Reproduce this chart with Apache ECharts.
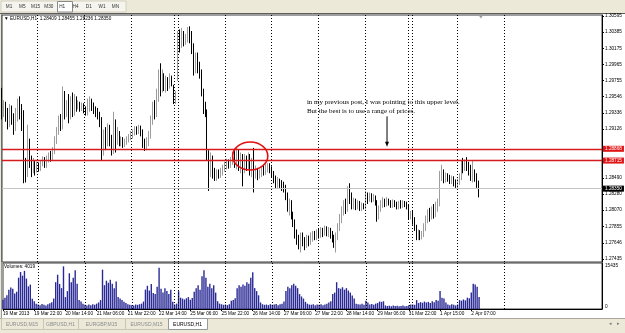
<!DOCTYPE html>
<html lang="en">
<head>
<meta charset="UTF-8" />
<title>EURUSD,H1</title>
</head>
<body>
<style>
* { margin: 0; padding: 0; }
body { width: 625px; height: 333px; overflow: hidden; background: #ece9d8; }
#chartEl { width: 625px; height: 333px; }
</style>
<div id="chartEl"></div>
<script src="https://cdn.jsdelivr.net/npm/echarts@6.0.0/dist/echarts.min.js"></script>
<script>
// H1 candles, one array per trading day: [open, close, low, high]
const mar19 = [
  [1.2950,1.2935,1.2925,1.2966],[1.2935,1.2942,1.2928,1.2950],[1.2942,1.2930,1.2922,1.2948],
  [1.2930,1.2920,1.2912,1.2940],[1.2920,1.2932,1.2915,1.2945],[1.2932,1.2925,1.2918,1.2943],
  [1.2925,1.2915,1.2905,1.2933],[1.2915,1.2928,1.2910,1.2940],[1.2928,1.2945,1.2922,1.2952],
  [1.2945,1.2938,1.2925,1.2955],[1.2938,1.2920,1.2910,1.2945],[1.2920,1.2862,1.2842,1.2937],
  [1.2862,1.2855,1.2843,1.2875],[1.2858,1.2895,1.2850,1.2918],[1.2895,1.2870,1.2862,1.2900],
  [1.2870,1.2862,1.2850,1.2878],[1.2862,1.2868,1.2855,1.2875],[1.2868,1.2860,1.2852,1.2872]
];
const mar20 = [
  [1.2860,1.2865,1.2856,1.2870],[1.2865,1.2862,1.2857,1.2869],[1.2862,1.2868,1.2858,1.2872],
  [1.2868,1.2872,1.2864,1.2877],[1.2872,1.2866,1.2862,1.2876],[1.2866,1.2874,1.2862,1.2878],
  [1.2874,1.2878,1.2869,1.2882],[1.2878,1.2875,1.2870,1.2884],[1.2875,1.2885,1.2872,1.2889],
  [1.2885,1.2898,1.2880,1.2903],[1.2898,1.2910,1.2893,1.2915],[1.2910,1.2925,1.2905,1.2930],
  [1.2925,1.2918,1.2910,1.2932],[1.2918,1.2945,1.2912,1.2968],[1.2945,1.2935,1.2925,1.2962],
  [1.2935,1.2940,1.2928,1.2950],[1.2940,1.2930,1.2920,1.2958],[1.2930,1.2945,1.2925,1.2955],
  [1.2945,1.2938,1.2928,1.2960],[1.2938,1.2950,1.2930,1.2958],[1.2950,1.2942,1.2935,1.2955],
  [1.2942,1.2945,1.2938,1.2950],[1.2945,1.2940,1.2935,1.2948],[1.2940,1.2943,1.2936,1.2947]
];
const mar21 = [
  [1.2943,1.2938,1.2933,1.2946],[1.2938,1.2935,1.2930,1.2942],[1.2935,1.2940,1.2930,1.2952],
  [1.2940,1.2948,1.2935,1.2955],[1.2948,1.2942,1.2936,1.2952],[1.2942,1.2938,1.2932,1.2947],
  [1.2938,1.2935,1.2928,1.2942],[1.2935,1.2930,1.2925,1.2940],[1.2930,1.2922,1.2915,1.2935],
  [1.2922,1.2885,1.2872,1.2928],[1.2885,1.2905,1.2878,1.2912],[1.2905,1.2895,1.2885,1.2915],
  [1.2895,1.2912,1.2890,1.2920],[1.2912,1.2900,1.2890,1.2918],[1.2900,1.2885,1.2878,1.2905],
  [1.2885,1.2910,1.2880,1.2935],[1.2910,1.2900,1.2882,1.2925],[1.2900,1.2905,1.2892,1.2915],
  [1.2905,1.2895,1.2890,1.2910],[1.2895,1.2898,1.2890,1.2903],[1.2898,1.2892,1.2888,1.2902],
  [1.2892,1.2896,1.2889,1.2900],[1.2896,1.2899,1.2892,1.2903],[1.2899,1.2902,1.2895,1.2906]
];
const mar22 = [
  [1.2902,1.2905,1.2898,1.2910],[1.2905,1.2908,1.2900,1.2912],[1.2908,1.2912,1.2904,1.2916],
  [1.2912,1.2910,1.2905,1.2916],[1.2910,1.2914,1.2906,1.2918],[1.2914,1.2908,1.2903,1.2917],
  [1.2908,1.2895,1.2888,1.2912],[1.2895,1.2890,1.2884,1.2900],[1.2890,1.2897,1.2885,1.2902],
  [1.2897,1.2905,1.2890,1.2910],[1.2905,1.2925,1.2900,1.2930],[1.2925,1.2940,1.2918,1.2948],
  [1.2940,1.2932,1.2925,1.2950],[1.2932,1.2955,1.2928,1.2965],[1.2955,1.2975,1.2948,1.2990],
  [1.2975,1.2965,1.2955,1.2998],[1.2965,1.2978,1.2960,1.2990],[1.2978,1.2970,1.2962,1.2985],
  [1.2970,1.2975,1.2960,1.2982],[1.2975,1.2968,1.2962,1.2980],[1.2968,1.2978,1.2965,1.2985],
  [1.2978,1.2975,1.2968,1.2982]
];
const mar24 = [[1.2965,1.2950,1.2945,1.2970],[1.2950,1.2958,1.2945,1.2962]];
const mar25 = [
  [1.2985,1.3030,1.2975,1.3040],[1.3030,1.3025,1.3012,1.3042],[1.3025,1.3035,1.3018,1.3044],
  [1.3035,1.3028,1.3020,1.3040],[1.3028,1.3030,1.3022,1.3036],[1.3030,1.3035,1.3025,1.3045],
  [1.3035,1.3032,1.3024,1.3046],[1.3032,1.3020,1.3010,1.3040],[1.3020,1.2990,1.2982,1.3024],
  [1.2990,1.3005,1.2985,1.3012],[1.3005,1.2995,1.2985,1.3012],[1.2995,1.2985,1.2978,1.3000],
  [1.2985,1.2960,1.2955,1.2990],[1.2960,1.2940,1.2932,1.2965],[1.2940,1.2935,1.2928,1.2948],
  [1.2935,1.2880,1.2872,1.2938],[1.2880,1.2860,1.2832,1.2885],[1.2860,1.2870,1.2850,1.2882],
  [1.2870,1.2855,1.2848,1.2878],[1.2855,1.2850,1.2845,1.2862],[1.2850,1.2856,1.2845,1.2860],
  [1.2856,1.2853,1.2848,1.2860],[1.2853,1.2858,1.2849,1.2862],[1.2858,1.2862,1.2852,1.2866]
];
const mar26 = [
  [1.2862,1.2866,1.2857,1.2870],[1.2866,1.2870,1.2860,1.2874],[1.2870,1.2867,1.2861,1.2873],
  [1.2867,1.2872,1.2862,1.2876],[1.2872,1.2878,1.2866,1.2883],[1.2878,1.2870,1.2862,1.2885],
  [1.2870,1.2878,1.2860,1.2888],[1.2878,1.2868,1.2858,1.2886],[1.2868,1.2875,1.2855,1.2882],
  [1.2875,1.2862,1.2838,1.2880],[1.2862,1.2872,1.2855,1.2880],[1.2872,1.2866,1.2858,1.2878],
  [1.2866,1.2874,1.2860,1.2882],[1.2874,1.2860,1.2852,1.2880],[1.2860,1.2868,1.2850,1.2875],
  [1.2868,1.2855,1.2830,1.2888],[1.2855,1.2858,1.2848,1.2865],[1.2858,1.2852,1.2846,1.2862],
  [1.2852,1.2856,1.2848,1.2860],[1.2856,1.2860,1.2850,1.2864],[1.2860,1.2857,1.2852,1.2866],
  [1.2857,1.2862,1.2853,1.2867],[1.2862,1.2864,1.2856,1.2868],[1.2864,1.2860,1.2855,1.2868]
];
const mar27 = [
  [1.2860,1.2855,1.2850,1.2864],[1.2855,1.2848,1.2842,1.2858],[1.2848,1.2840,1.2835,1.2852],
  [1.2840,1.2845,1.2836,1.2850],[1.2845,1.2842,1.2836,1.2848],[1.2842,1.2838,1.2832,1.2846],
  [1.2838,1.2835,1.2830,1.2844],[1.2835,1.2825,1.2820,1.2840],[1.2825,1.2812,1.2805,1.2830],
  [1.2812,1.2815,1.2800,1.2822],[1.2815,1.2800,1.2795,1.2820],[1.2800,1.2790,1.2785,1.2805],
  [1.2790,1.2778,1.2770,1.2795],[1.2778,1.2770,1.2762,1.2782],[1.2770,1.2765,1.2756,1.2775],
  [1.2765,1.2772,1.2752,1.2778],[1.2772,1.2768,1.2760,1.2778],[1.2768,1.2762,1.2755,1.2772],
  [1.2762,1.2770,1.2758,1.2775],[1.2770,1.2766,1.2760,1.2774],[1.2766,1.2772,1.2762,1.2778],
  [1.2772,1.2775,1.2766,1.2780],[1.2775,1.2772,1.2768,1.2780],[1.2772,1.2778,1.2768,1.2782]
];
const mar28 = [
  [1.2778,1.2776,1.2770,1.2783],[1.2776,1.2780,1.2771,1.2785],[1.2780,1.2778,1.2772,1.2784],
  [1.2778,1.2782,1.2774,1.2787],[1.2782,1.2778,1.2773,1.2786],[1.2778,1.2780,1.2772,1.2785],
  [1.2780,1.2776,1.2770,1.2784],[1.2776,1.2770,1.2765,1.2780],[1.2770,1.2765,1.2758,1.2775],
  [1.2765,1.2772,1.2752,1.2778],[1.2772,1.2785,1.2768,1.2790],[1.2785,1.2798,1.2780,1.2802],
  [1.2798,1.2805,1.2790,1.2812],[1.2805,1.2815,1.2800,1.2820],[1.2815,1.2810,1.2802,1.2822],
  [1.2810,1.2830,1.2805,1.2838],[1.2830,1.2822,1.2815,1.2842],[1.2822,1.2815,1.2808,1.2830],
  [1.2815,1.2818,1.2808,1.2823],[1.2818,1.2812,1.2807,1.2822],[1.2812,1.2815,1.2808,1.2820],
  [1.2815,1.2810,1.2806,1.2819],[1.2810,1.2813,1.2806,1.2817],[1.2813,1.2812,1.2808,1.2816]
];
const mar29 = [
  [1.2812,1.2825,1.2808,1.2832],[1.2825,1.2822,1.2815,1.2830],[1.2822,1.2826,1.2818,1.2830],
  [1.2826,1.2822,1.2817,1.2829],[1.2822,1.2824,1.2818,1.2828],[1.2824,1.2818,1.2813,1.2826],
  [1.2818,1.2800,1.2792,1.2820],[1.2800,1.2810,1.2795,1.2813],[1.2810,1.2815,1.2805,1.2820],
  [1.2815,1.2820,1.2810,1.2824],[1.2820,1.2816,1.2811,1.2822],[1.2816,1.2820,1.2812,1.2824],
  [1.2820,1.2817,1.2813,1.2822],[1.2817,1.2814,1.2810,1.2820],[1.2814,1.2818,1.2810,1.2821],
  [1.2818,1.2815,1.2811,1.2820],[1.2815,1.2812,1.2808,1.2818],[1.2812,1.2816,1.2808,1.2819],
  [1.2816,1.2814,1.2809,1.2820],[1.2814,1.2817,1.2810,1.2820],[1.2817,1.2815,1.2811,1.2819],
  [1.2815,1.2812,1.2808,1.2818]
];
const mar31 = [[1.2812,1.2800,1.2795,1.2815],[1.2800,1.2803,1.2795,1.2806]];
const apr01 = [
  [1.2803,1.2795,1.2788,1.2806],[1.2795,1.2785,1.2780,1.2798],[1.2785,1.2775,1.2768,1.2788],
  [1.2775,1.2778,1.2768,1.2782],[1.2778,1.2772,1.2768,1.2781],[1.2772,1.2776,1.2769,1.2780],
  [1.2776,1.2785,1.2772,1.2790],[1.2785,1.2795,1.2780,1.2800],[1.2795,1.2802,1.2790,1.2808],
  [1.2802,1.2798,1.2792,1.2810],[1.2798,1.2806,1.2795,1.2812],[1.2806,1.2802,1.2796,1.2815],
  [1.2802,1.2810,1.2798,1.2818],[1.2810,1.2815,1.2805,1.2822],[1.2815,1.2850,1.2812,1.2858],
  [1.2850,1.2855,1.2845,1.2866],[1.2855,1.2848,1.2842,1.2860],[1.2848,1.2852,1.2843,1.2856],
  [1.2852,1.2849,1.2844,1.2855],[1.2849,1.2846,1.2841,1.2853],[1.2846,1.2848,1.2841,1.2852],
  [1.2848,1.2843,1.2838,1.2851],[1.2843,1.2840,1.2836,1.2847]
];
const apr02 = [
  [1.2840,1.2845,1.2836,1.2848],[1.2845,1.2850,1.2840,1.2855],[1.2850,1.2866,1.2846,1.2872],
  [1.2866,1.2862,1.2855,1.2875],[1.2862,1.2868,1.2858,1.2873],[1.2868,1.2865,1.2858,1.2876],
  [1.2865,1.2858,1.2852,1.2870],[1.2858,1.2850,1.2845,1.2866],[1.2850,1.2856,1.2843,1.2872],
  [1.2856,1.2850,1.2844,1.2860],[1.2850,1.28409,1.2836,1.2855],[1.28409,1.28350,1.28236,1.28455]
];

// tick volumes, same bars
const vol19 = [3100,3800,4600,6500,7200,6800,5200,5800,10500,12400,11200,12800,10200,7600,8200,3400,2600,1800];
const vol20 = [1500,1300,1700,1400,1200,1600,1900,2300,3500,9000,11500,8400,7000,14300,4000,6000,12000,9000,10500,13000,8500,3000,2500,1800];
const vol21 = [1400,1200,1500,1300,1600,1400,1800,2200,3000,13200,8000,9500,8800,9800,8500,7000,9200,4000,3500,3000,2400,2000,1600,1400];
const vol22 = [1300,1200,1500,1400,1600,1800,2500,6500,7800,6200,8400,5400,5000,7500,13800,6800,5500,7000,6000,5000,6500,2400];
const vol24 = [1500,1800];
const vol25 = [6000,3800,3500,3200,3600,4000,3100,3700,5800,7000,8000,6500,11000,13000,10500,7500,8500,7000,8000,5500,2600,1800,1600,1400];
const vol26 = [1500,1300,1600,2800,3000,3600,7000,8000,7500,8200,7800,9000,8500,10500,12300,7000,6000,4600,2200,1600,1400,1500,1300,1600];
const vol27 = [1400,1500,1700,1300,1600,1800,2500,6000,7500,7000,8000,8500,7800,7000,5000,4200,3500,2400,1800,1500,1400,1600,1300,1500];
const vol28 = [1400,1600,1300,1500,1800,2200,2600,5000,5500,9000,7000,6800,7300,6500,7000,6200,5500,4500,3500,1800,1600,1500,1800,1400];
const vol29 = [2800,2200,1500,1700,1400,1800,2000,2500,2400,2600,1200,1000,1100,900,1200,1000,1100,900,1000,1200,900,1000];
const vol31 = [1300,1500];
const volA1 = [1500,1400,3000,2000,2300,2100,2500,2200,2400,2000,2600,2300,3000,2800,6000,3800,3500,2200,1500,1300,1600,1400,1200];
const volA2 = [1500,3000,2800,3200,2900,3800,3600,5500,8500,8200,7500,4019];

// axis texts
const timeLabels = ['19 Mar 2013','19 Mar 22:00','20 Mar 14:00','21 Mar 06:00','21 Mar 22:00','22 Mar 14:00',
  '25 Mar 06:00','25 Mar 22:00','26 Mar 14:00','27 Mar 06:00','27 Mar 22:00','28 Mar 14:00',
  '29 Mar 06:00','31 Mar 22:00','1 Apr 15:00','2 Apr 07:00'];
const labelBars = [0,16,32,48,64,80,96,112,128,144,160,176,192,208,224,240];
const daySeparators = [18,42,66,88,90,114,138,162,186,208,210,233,257];
const priceTicks = [1.27435,1.27646,1.27855,1.28070,1.28280,1.28490,1.29126,1.29336,1.29546,1.29755,1.29965,1.30175,1.30385,1.30595];
const volumeTicks = [0, 15435];
const levels = [1.28868, 1.28715];
const tfLabels = ['M1','M5','M15','M30','H1','H4','D1','W1','MN'];
const tabNames = ['EURUSD,M15','GBPUSD,H1','EURGBP,M15','EURUSD,M15','EURUSD,H1'];
const noteLines = ['in my previous post, I was pointing to this upper level.', 'But the best is to use a range of prices.'];

const candles = [].concat(mar19, mar20, mar21, mar22, mar24, mar25, mar26, mar27, mar28, mar29, mar31, apr01, apr02);
const volumes = [].concat(vol19, vol20, vol21, vol22, vol24, vol25, vol26, vol27, vol28, vol29, vol31, volA1, volA2);
const slotCount = 308;
const barIds = Array.from({ length: slotCount }, (_, i) => i);
const lastBar = candles[candles.length - 1];
const bid = lastBar[1];

const smallFont = '4.7px "Liberation Sans", Arial, sans-serif';
function txt(id, text, x, y, opt) {
  return { type: 'text', id: id, z: 5, style: Object.assign({ text: text, x: x, y: y, font: smallFont, fill: '#000', verticalAlign: 'middle' }, opt || {}) };
}

// window chrome (toolbar, frame, tabs)
const chrome = [
  { type: 'rect', id: 'paper', z: -10, shape: { x: 1, y: 14, width: 624, height: 304 }, style: { fill: '#fff' } },
  { type: 'line', id: 'frameTop', z: -9, shape: { x1: 0, y1: 13.5, x2: 625, y2: 13.5 }, style: { stroke: '#5c5c5c', lineWidth: 1 } },
  { type: 'line', id: 'frameLeft', z: -9, shape: { x1: 1.5, y1: 14, x2: 1.5, y2: 318 }, style: { stroke: '#9a9a9a', lineWidth: 1 } },
  { type: 'rect', id: 'tfPanel', z: -9, shape: { x: 1, y: 1, width: 125, height: 11 }, style: { fill: '#f5f4ef', stroke: '#d4d0c0', lineWidth: 1 } },
  { type: 'rect', id: 'tfOn', z: -8, shape: { x: 57.5, y: 1.5, width: 15, height: 10.5 }, style: { fill: '#fff', stroke: '#8a8a8a', lineWidth: 1 } },
  { type: 'line', id: 'tabsTop', z: -9, shape: { x1: 0, y1: 318.5, x2: 625, y2: 318.5 }, style: { stroke: '#aca899', lineWidth: 1 } },
  txt('scrollL', '\u25C2', 609, 324, { fill: '#777', font: '5px "DejaVu Sans"' }),
  txt('scrollR', '\u25B8', 617, 324, { fill: '#777', font: '5px "DejaVu Sans"' }),
  txt('header', '\u25BC EURUSD,H1  ' + [lastBar[0], lastBar[3], lastBar[2], lastBar[1]].map(v => v.toFixed(5)).join(' '), 4, 19),
  txt('volHeader', 'Volumes: ' + volumes[volumes.length - 1], 4, 266.5)
];
tfLabels.forEach(function (t, i) {
  chrome.push(txt('tf' + i, t, 9 + 13.3 * i, 6.8, { align: 'center', fill: '#333' }));
});
const tabEdges = [1, 43, 78, 125, 168, 207];
tabNames.forEach(function (t, i) {
  const on = i === tabNames.length - 1;
  chrome.push({ type: 'rect', id: 'tab' + i, z: -8, shape: { x: tabEdges[i] + 0.5, y: 318.5, width: tabEdges[i + 1] - tabEdges[i], height: 11 },
    style: { fill: on ? '#fff' : '#ece9d8', stroke: on ? '#919b9c' : '#c9c6b6', lineWidth: 1 } });
  chrome.push(txt('tabT' + i, t, (tabEdges[i] + tabEdges[i + 1]) / 2, 324.5, { align: 'center', fill: on ? '#000' : '#8c8c8c', font: '5px "Liberation Sans", Arial, sans-serif' }));
});

function isLabelBar(index) { return labelBars.indexOf(index) >= 0; }

const option = {
  animation: false,
  backgroundColor: '#ece9d8',
  textStyle: { fontFamily: '"Liberation Sans", Arial, sans-serif' },
  graphic: chrome,
  grid: [
    { left: 2, right: 23, top: 15, height: 247, show: true, borderColor: '#3c3c3c', borderWidth: 1 },
    { left: 2, right: 23, top: 263, height: 46, show: true, borderColor: '#3c3c3c', borderWidth: 1 }
  ],
  xAxis: [
    { type: 'category', gridIndex: 0, data: barIds, boundaryGap: false,
      axisLine: { show: false }, axisTick: { show: false }, axisLabel: { show: false }, splitLine: { show: false } },
    { type: 'category', gridIndex: 1, data: barIds, boundaryGap: false,
      axisLine: { lineStyle: { color: '#000' } },
      axisTick: { show: true, length: 2, interval: isLabelBar, lineStyle: { color: '#000' } },
      axisLabel: { interval: isLabelBar, formatter: function (v, i) { return timeLabels[labelBars.indexOf(i)] || ''; },
        fontSize: 4.7, color: '#000', align: 'left', margin: 2 },
      splitLine: { show: false } }
  ],
  yAxis: [
    { type: 'value', gridIndex: 0, position: 'right', min: 1.27396, max: 1.30608,
      splitLine: { show: false },
      axisLine: { show: true, lineStyle: { color: '#000' } },
      axisTick: { show: true, customValues: priceTicks, length: 2, lineStyle: { color: '#000' } },
      axisLabel: { customValues: priceTicks, formatter: function (v) { return v.toFixed(5); }, fontSize: 4.7, color: '#000', margin: 3 } },
    { type: 'value', gridIndex: 1, position: 'right', min: 0, max: volumeTicks[1],
      splitLine: { show: false },
      axisLine: { show: true, lineStyle: { color: '#000' } },
      axisTick: { show: false },
      axisLabel: { customValues: volumeTicks, margin: 3,
        formatter: function (v) { return v === 0 ? '{b|0}' : '{t|' + v + '}'; },
        rich: { t: { fontSize: 4.7, color: '#000', padding: [5, 0, 0, 0] }, b: { fontSize: 4.7, color: '#000', padding: [0, 0, 4, 0] } } } }
  ],
  series: [
    {
      name: 'EURUSD,H1', type: 'candlestick', xAxisIndex: 0, yAxisIndex: 0,
      data: candles, barWidth: 0.6,
      itemStyle: { color: '#9c9c9c', color0: '#000', borderColor: '#9c9c9c', borderColor0: '#000', borderWidth: 1 },
      markLine: {
        silent: true, symbol: ['none', 'none'], animation: false, precision: 5,
        data: daySeparators.map(function (b) {
          return { xAxis: b, lineStyle: { type: [1, 2], color: '#000', width: 1 }, label: { show: false } };
        }).concat(levels.map(function (v) {
          return { yAxis: v, lineStyle: { type: 'solid', color: '#d41c1c', width: 1.4 },
            label: { show: true, position: 'end', formatter: v.toFixed(5), backgroundColor: '#e01414', color: '#fff', fontSize: 4.7, padding: [1, 2, 0, 2], distance: 1 } };
        })).concat([
          { yAxis: bid, lineStyle: { type: 'solid', color: '#c4c4c4', width: 1 },
            label: { show: true, position: 'end', formatter: bid.toFixed(5), backgroundColor: '#000', color: '#fff', fontSize: 4.7, padding: [1, 2, 0, 2], distance: 1 } }
        ])
      }
    },
    {
      name: 'Volumes', type: 'bar', xAxisIndex: 1, yAxisIndex: 1,
      data: volumes, barWidth: 1.4,
      itemStyle: { color: '#2a2a96' },
      markLine: {
        silent: true, symbol: ['none', 'none'], animation: false,
        data: daySeparators.map(function (b) {
          return { xAxis: b, lineStyle: { type: [1, 2], color: '#000', width: 1 }, label: { show: false } };
        })
      }
    }
  ]
};

const myChart = echarts.init(document.getElementById('chartEl'));
myChart.setOption(option);

// annotations anchored to bars / prices
const circleSpot = { bar: 127, price: 1.28774, barHalf: 9, priceHalf: 0.00182 };
const noteSpot = { bar: 156, prices: [1.29480, 1.29359] };
const arrowSpot = { bar: 197, from: 1.29290, to: 1.28895 };

function toPx(bar, price) { return myChart.convertToPixel({ gridIndex: 0 }, [bar, price]); }
const c = toPx(circleSpot.bar, circleSpot.price);
const e = toPx(circleSpot.bar + circleSpot.barHalf, circleSpot.price + circleSpot.priceHalf);
const a1 = toPx(arrowSpot.bar, arrowSpot.from);
const a2 = toPx(arrowSpot.bar, arrowSpot.to);
const shift = toPx(candles.length, 1.30608);
const notes = noteLines.map(function (t, i) {
  const p = toPx(noteSpot.bar, noteSpot.prices[i]);
  return txt('note' + i, t, p[0], p[1], { font: '7px "Liberation Serif", "Times New Roman", serif' });
});

myChart.setOption({
  graphic: chrome.concat(notes, [
    { type: 'ellipse', id: 'ring', z: 20, shape: { cx: c[0], cy: c[1], rx: e[0] - c[0], ry: c[1] - e[1] },
      style: { fill: 'none', stroke: '#e01010', lineWidth: 1.6 } },
    { type: 'line', id: 'arrowBody', z: 20, shape: { x1: a1[0], y1: a1[1], x2: a2[0], y2: a2[1] - 4 }, style: { stroke: '#000', lineWidth: 1 } },
    { type: 'polygon', id: 'arrowHead', z: 20, shape: { points: [[a2[0] - 2, a2[1] - 5], [a2[0] + 2, a2[1] - 5], [a2[0], a2[1]]] }, style: { fill: '#000' } },
    { type: 'polygon', id: 'shiftMark', z: 20, shape: { points: [[shift[0] - 2, shift[1] + 0.5], [shift[0] + 2, shift[1] + 0.5], [shift[0], shift[1] + 3.5]] }, style: { fill: '#9a9a9a' } }
  ])
});
</script>
</body>
</html>
